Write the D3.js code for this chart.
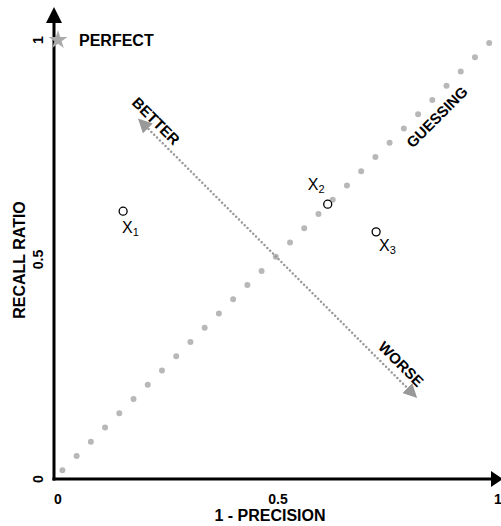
<!DOCTYPE html>
<html>
<head>
<meta charset="utf-8">
<script src="https://cdn.jsdelivr.net/npm/d3@7"></script>
<style>
  body { margin: 0; background: #fff; }
  text { font-family: "Liberation Sans", Arial, sans-serif; fill: #000; }
</style>
</head>
<body>
<div id="chart-area"></div>
<script>
// tick values on both axes
var tickValues = [0, 0.5, 1];
var tickLabels = ["0", "0.5", "1"];

// the three systems
var pointNames = ["X", "X", "X"];
var pointSubs = ["1", "2", "3"];
var pointX = [0.148, 0.613, 0.723];
var pointY = [0.61, 0.626, 0.563];

// guessing diagonal and better/worse arrow ends
var guessX = [0.01, 0.98];
var guessY = [0.02, 0.993];
var arrowX = [0.193, 0.805];
var arrowY = [0.81, 0.196];

var width = 501, height = 526;

var svg = d3.select("#chart-area").append("svg")
    .attr("width", width)
    .attr("height", height);

var x = d3.scaleLinear().domain([0, 1]).range([58, 498]);
var y = d3.scaleLinear().domain([0, 1]).range([479, 40]);

var defs = svg.append("defs");
defs.append("marker")
    .attr("id", "grayhead")
    .attr("viewBox", "0 0 10 10")
    .attr("refX", 5).attr("refY", 5)
    .attr("markerWidth", 14).attr("markerHeight", 14)
    .attr("markerUnits", "userSpaceOnUse")
    .attr("orient", "auto-start-reverse")
    .append("path")
    .attr("d", "M0,0 L10,5 L0,10 Z")
    .attr("fill", "#999");

// guessing line, drawn as big round dots
var gx1 = x(guessX[0]), gy1 = y(guessY[0]), gx2 = x(guessX[1]), gy2 = y(guessY[1]);
var gLen = Math.sqrt((gx2 - gx1) * (gx2 - gx1) + (gy2 - gy1) * (gy2 - gy1));
svg.append("line")
    .attr("x1", gx1).attr("y1", gy1)
    .attr("x2", gx2).attr("y2", gy2)
    .attr("stroke", "#b8b8b8")
    .attr("stroke-width", 6)
    .attr("stroke-linecap", "round")
    .attr("stroke-dasharray", "0 " + (gLen / 30));

// better / worse arrow
svg.append("line")
    .attr("x1", x(arrowX[0])).attr("y1", y(arrowY[0]))
    .attr("x2", x(arrowX[1])).attr("y2", y(arrowY[1]))
    .attr("stroke", "#999")
    .attr("stroke-width", 2.5)
    .attr("stroke-linecap", "round")
    .attr("stroke-dasharray", "0 4")
    .attr("marker-start", "url(#grayhead)")
    .attr("marker-end", "url(#grayhead)");

// axes
var ax0 = 54, ay0 = 479;
svg.append("line")
    .attr("x1", ax0).attr("y1", ay0 + 1.5)
    .attr("x2", ax0).attr("y2", 20)
    .attr("stroke", "#000").attr("stroke-width", 3);
svg.append("path")
    .attr("d", "M" + ax0 + ",7 L" + (ax0 - 8) + ",23 L" + (ax0 + 8) + ",23 Z")
    .attr("fill", "#000");
svg.append("line")
    .attr("x1", ax0 - 1.5).attr("y1", ay0)
    .attr("x2", 494).attr("y2", ay0)
    .attr("stroke", "#000").attr("stroke-width", 3);
svg.append("path")
    .attr("d", "M503," + ay0 + " L491," + (ay0 - 8) + " L491," + (ay0 + 8) + " Z")
    .attr("fill", "#000");

// tick labels
svg.selectAll(".xtick")
    .data(tickValues)
    .enter().append("text")
    .attr("class", "xtick")
    .attr("x", function(d) { return x(d); })
    .attr("y", 504)
    .attr("text-anchor", "middle")
    .attr("font-size", 14)
    .attr("font-weight", "bold")
    .text(function(d, i) { return tickLabels[i]; });

svg.selectAll(".ytick")
    .data(tickValues)
    .enter().append("text")
    .attr("class", "ytick")
    .attr("transform", function(d) { return "translate(43," + y(d) + ") rotate(-90)"; })
    .attr("text-anchor", "middle")
    .attr("font-size", 14)
    .attr("font-weight", "bold")
    .text(function(d, i) { return tickLabels[i]; });

// axis titles
svg.append("text")
    .attr("x", 270).attr("y", 521)
    .attr("text-anchor", "middle")
    .attr("font-size", 16)
    .attr("font-weight", "bold")
    .text("1 - PRECISION");

svg.append("text")
    .attr("transform", "translate(25,260) rotate(-90)")
    .attr("text-anchor", "middle")
    .attr("font-size", 16)
    .attr("font-weight", "bold")
    .text("RECALL RATIO");

// perfect star
svg.append("path")
    .attr("d", d3.symbol().type(d3.symbolStar).size(110)())
    .attr("transform", "translate(" + x(0) + "," + y(1) + ")")
    .attr("fill", "#aaa");
svg.append("text")
    .attr("x", 79).attr("y", 46)
    .attr("font-size", 16)
    .attr("font-weight", "bold")
    .text("PERFECT");

// rotated annotations
function diagLabel(txt, cx, cy, angle) {
    svg.append("text")
        .attr("transform", "translate(" + cx + "," + cy + ") rotate(" + angle + ")")
        .attr("text-anchor", "middle")
        .attr("dy", "0.35em")
        .attr("font-size", 15)
        .attr("font-weight", "bold")
        .text(txt);
}
diagLabel("BETTER", 156, 121, 45);
diagLabel("WORSE", 401, 364, 45);
diagLabel("GUESSING", 437, 117, -45);

// points
svg.selectAll(".pt")
    .data(pointX)
    .enter().append("circle")
    .attr("class", "pt")
    .attr("cx", function(d) { return x(d); })
    .attr("cy", function(d, i) { return y(pointY[i]); })
    .attr("r", 4)
    .attr("fill", "#fff")
    .attr("stroke", "#000")
    .attr("stroke-width", 1.3);

var labelDx = [-1, -20, 3];
var labelDy = [22, -14, 19];
var labels = svg.selectAll(".plabel")
    .data(pointX)
    .enter().append("text")
    .attr("class", "plabel")
    .attr("x", function(d, i) { return x(d) + labelDx[i]; })
    .attr("y", function(d, i) { return y(pointY[i]) + labelDy[i]; })
    .attr("font-size", 16);
labels.append("tspan").text(function(d, i) { return pointNames[i]; });
labels.append("tspan")
    .attr("font-size", 11)
    .attr("dy", 3)
    .text(function(d, i) { return pointSubs[i]; });
</script>
</body>
</html>
